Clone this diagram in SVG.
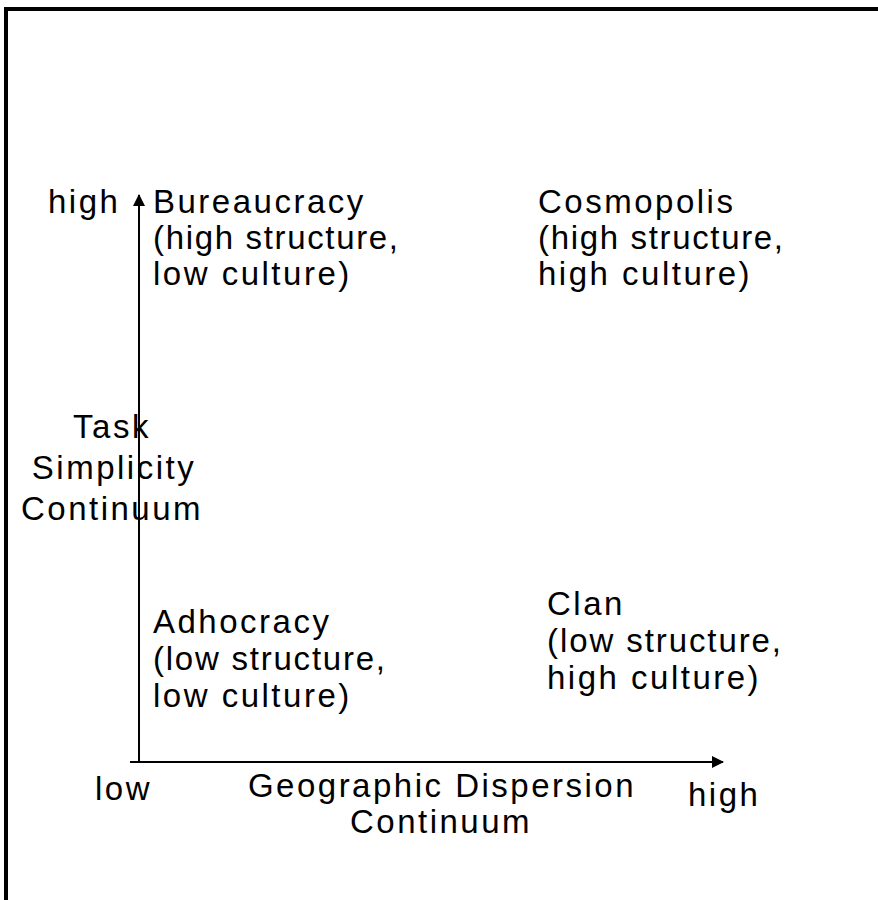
<svg xmlns="http://www.w3.org/2000/svg" width="878" height="900" viewBox="0 0 878 900">
<style>
text{font-family:"Liberation Sans",Arial,sans-serif;font-size:33px;letter-spacing:2.5px;fill:#000}
text.fit{letter-spacing:0}
.ax{stroke:#000;stroke-width:2;fill:none}
</style>
<defs>
<marker id="ah" markerWidth="12" markerHeight="12" refX="11" refY="6" orient="auto" markerUnits="userSpaceOnUse">
<path d="M0,0 L12,6 L0,12 Z" fill="#000"/>
</marker>
</defs>
<rect width="878" height="900" fill="#fff"/>
<g id="frame">
<path d="M6,900 V9 H878" stroke="#000" stroke-width="4" fill="none"/>
</g>
<g id="connectors">
<line class="ax" x1="139" y1="763" x2="139" y2="195" marker-end="url(#ah)"/>
<line class="ax" x1="130" y1="762" x2="723" y2="762" marker-end="url(#ah)"/>
</g>
<g id="bureaucracy">
<text x="153" y="213">Bureaucracy</text>
<text class="fit" x="153" y="249" textLength="245" lengthAdjust="spacing">(high structure,</text>
<text x="153" y="285">low culture)</text>
</g>
<g id="cosmopolis">
<text x="538" y="213">Cosmopolis</text>
<text class="fit" x="538" y="249" textLength="245" lengthAdjust="spacing">(high structure,</text>
<text x="538" y="285">high culture)</text>
</g>
<g id="adhocracy">
<text x="153" y="633">Adhocracy</text>
<text class="fit" x="153" y="670" textLength="232" lengthAdjust="spacing">(low structure,</text>
<text x="153" y="707">low culture)</text>
</g>
<g id="clan">
<text x="547" y="615">Clan</text>
<text class="fit" x="547" y="652" textLength="234" lengthAdjust="spacing">(low structure,</text>
<text x="547" y="689">high culture)</text>
</g>
<g id="y-axis-labels">
<text x="48" y="213">high</text>
<text x="112" y="438" text-anchor="middle">Task</text>
<text x="114" y="479" text-anchor="middle">Simplicity</text>
<text x="112" y="520" text-anchor="middle">Continuum</text>
</g>
<g id="x-axis-labels">
<text x="95" y="800">low</text>
<text x="442" y="797" text-anchor="middle">Geographic Dispersion</text>
<text x="441" y="833" text-anchor="middle">Continuum</text>
<text x="688" y="806">high</text>
</g>
</svg>
